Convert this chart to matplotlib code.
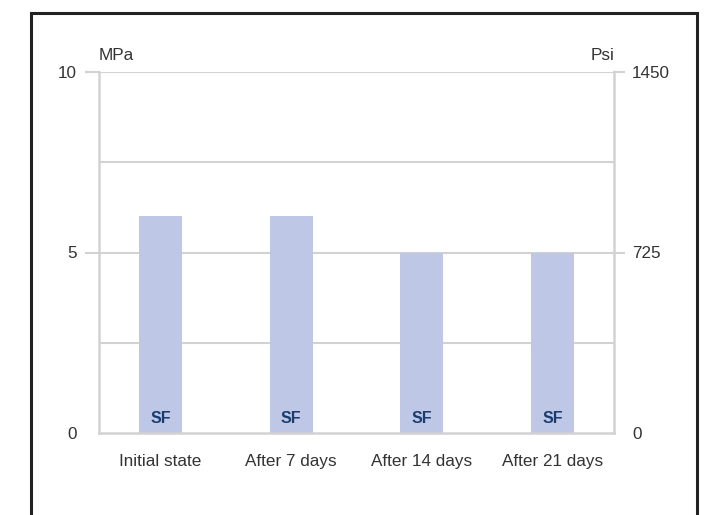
import matplotlib
matplotlib.use("Agg")
import matplotlib.pyplot as plt
import matplotlib.transforms as mtransforms
from matplotlib.patches import Rectangle
import numpy as np

plt.rcParams['font.family'] = ['Liberation Sans', 'DejaVu Sans']

categories = ['Initial state', 'After 7 days', 'After 14 days', 'After 21 days']
strength_mpa = [6, 6, 5, 5]
bar_labels = ['SF', 'SF', 'SF', 'SF']
left_ticks = [0, 5, 10]
right_ticks = [0, 5, 10]
right_tick_labels = ['0', '725', '1450']

bar_color = '#bec8e6'
grid_color = '#d2d2d2'
text_color = '#333333'
label_color = '#1b3d6e'
fs = 12.3

fig = plt.figure(figsize=(7.13, 5.15), dpi=100)
ax = fig.add_axes([99 / 713, 82 / 515, 515 / 713, 361 / 515])

# outer frame, open at the bottom of the picture
fig.patches.append(Rectangle((31 / 713, -0.05), (697 - 31) / 713, (515 - 13) / 515 + 0.05,
                             transform=fig.transFigure, fill=False, edgecolor='#222222',
                             linewidth=2.2))

x = np.arange(len(categories))
ax.bar(x, strength_mpa, width=0.33, color=bar_color, zorder=2)
for xi, lab in zip(x, bar_labels):
    ax.text(xi, 0.2, lab, ha='center', va='bottom', color=label_color,
            fontsize=11.5, fontweight='bold', zorder=3)

# grid lines
for yv in [2.5, 5, 7.5, 10]:
    ax.axhline(yv, color=grid_color, linewidth=1.5, zorder=1)

# tick stubs outside the axes at 5 and 10
trans = mtransforms.blended_transform_factory(ax.transAxes, ax.transData)
for yv in [5, 10]:
    ax.plot([-13 / 515, 0], [yv, yv], transform=trans, color=grid_color,
            linewidth=1.5, clip_on=False)
    ax.plot([1, 1 + 10 / 515], [yv, yv], transform=trans, color=grid_color,
            linewidth=1.5, clip_on=False)

ax.set_xlim(-0.47, 3.47)
ax.set_ylim(0, 10)
ax.set_xticks(x)
ax.set_xticklabels(categories, fontsize=fs, color=text_color)
ax.tick_params(axis='x', length=0, pad=15)

ax.set_yticks(left_ticks)
ax.set_yticklabels([str(t) for t in left_ticks], fontsize=fs, color=text_color)
ax.tick_params(axis='y', length=0, pad=16)

ax.spines['top'].set_visible(False)
for s in ['left', 'right', 'bottom']:
    ax.spines[s].set_color(grid_color)
    ax.spines[s].set_linewidth(1.8)

ax2 = ax.twinx()
ax2.set_ylim(0, 10)
ax2.set_yticks(right_ticks)
ax2.set_yticklabels(right_tick_labels, fontsize=fs, color=text_color)
ax2.tick_params(axis='y', length=0, pad=13)
for s in ['top', 'left', 'bottom', 'right']:
    ax2.spines[s].set_visible(False)

ax.text(0, 1.025, 'MPa', transform=ax.transAxes, ha='left', va='bottom',
        fontsize=fs, color=text_color)
ax.text(1, 1.025, 'Psi', transform=ax.transAxes, ha='right', va='bottom',
        fontsize=fs, color=text_color)

fig.savefig('out.png', dpi=100)
